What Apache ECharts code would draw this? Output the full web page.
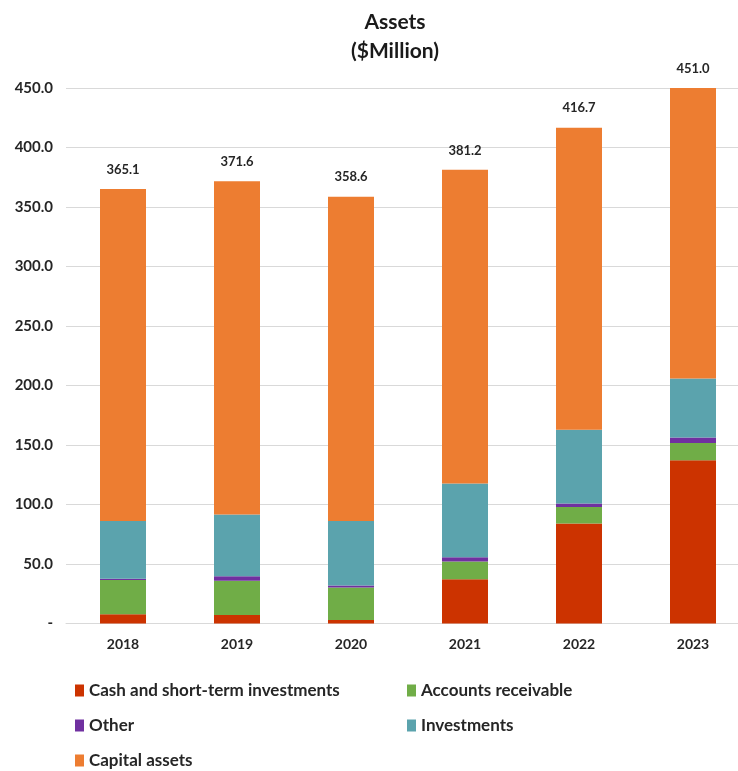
<!DOCTYPE html>
<html>
<head>
<meta charset="utf-8">
<script src="https://cdn.jsdelivr.net/npm/echarts@6/dist/echarts.min.js"></script>
<style>
  html, body { margin: 0; padding: 0; background: #fff; overflow: hidden; }
  #chart { width: 760px; height: 771px; }
</style>
</head>
<body>
<div id="chart"></div>
<script>
// Assets by category, $ millions
const years = ['2018', '2019', '2020', '2021', '2022', '2023'];
const cash = [7.7, 7.1, 2.9, 37.1, 84.1, 137.1];
const receivable = [28.8, 28.8, 27.4, 15.1, 13.9, 14.5];
const other = [1.1, 3.9, 1.7, 3.4, 2.8, 4.6];
const investments = [48.6, 51.7, 54.2, 62.0, 62.1, 49.7];
const capital = [278.9, 280.1, 272.4, 263.6, 253.8, 245.1];
const totals = [365.1, 371.6, 358.6, 381.2, 416.7, 451.0];
const yTicks = [0, 50, 100, 150, 200, 250, 300, 350, 400, 450];

const FONT = 'Lato, "Open Sans", sans-serif';
const chart = echarts.init(document.getElementById('chart'));

function seg(name, data, color) {
  return {
    name, type: 'bar', stack: 'assets', data,
    barWidth: 46,
    itemStyle: { color },
    emphasis: { disabled: true }
  };
}

const series = [
  seg('Cash and short-term investments', cash, '#CC3300'),
  seg('Accounts receivable', receivable, '#70AD47'),
  seg('Other', other, '#7030A0'),
  seg('Investments', investments, '#5BA3AD'),
  seg('Capital assets', capital, '#ED7D31')
];
// totals shown above each stack
series[4].label = {
  show: true, position: 'top', distance: 13,
  formatter: p => totals[p.dataIndex].toFixed(1),
  fontFamily: FONT, fontWeight: 'bold', fontSize: 13, color: '#262626'
};

const legendText = { fontFamily: FONT, fontSize: 17, fontWeight: 'bold', color: '#262626' };

chart.setOption({
  animation: false,
  backgroundColor: '#fff',
  title: {
    text: 'Assets\n($Million)',
    left: 390, top: 3, textAlign: 'center',
    textStyle: { fontFamily: FONT, fontWeight: 'bold', fontSize: 21, color: '#1a1a1a', lineHeight: 29 }
  },
  legend: [
    {
      orient: 'vertical', left: 75, top: 682, height: 90, padding: 0, itemGap: 18,
      itemWidth: 9, itemHeight: 12, icon: 'rect',
      data: ['Cash and short-term investments', 'Other', 'Capital assets'],
      textStyle: legendText
    },
    {
      orient: 'vertical', left: 407, top: 682, height: 90, padding: 0, itemGap: 18,
      itemWidth: 9, itemHeight: 12, icon: 'rect',
      data: ['Accounts receivable', 'Investments'],
      textStyle: legendText
    }
  ],
  grid: { left: 66, top: 88, width: 684, height: 535.5, containLabel: false },
  xAxis: {
    type: 'category', data: years,
    axisLine: { show: true, lineStyle: { color: '#d9d9d9' } },
    axisTick: { show: false },
    axisLabel: { fontFamily: FONT, fontWeight: 'bold', fontSize: 14, color: '#262626', margin: 14 }
  },
  yAxis: {
    type: 'value', min: yTicks[0], max: yTicks[yTicks.length - 1], interval: 50,
    axisLine: { show: false }, axisTick: { show: false },
    splitLine: { lineStyle: { color: '#d9d9d9' } },
    axisLabel: {
      fontFamily: FONT, fontWeight: 'bold', fontSize: 15, color: '#262626', margin: 13,
      formatter: v => v === 0 ? '-' : v.toFixed(1)
    }
  },
  series
});
</script>
</body>
</html>
